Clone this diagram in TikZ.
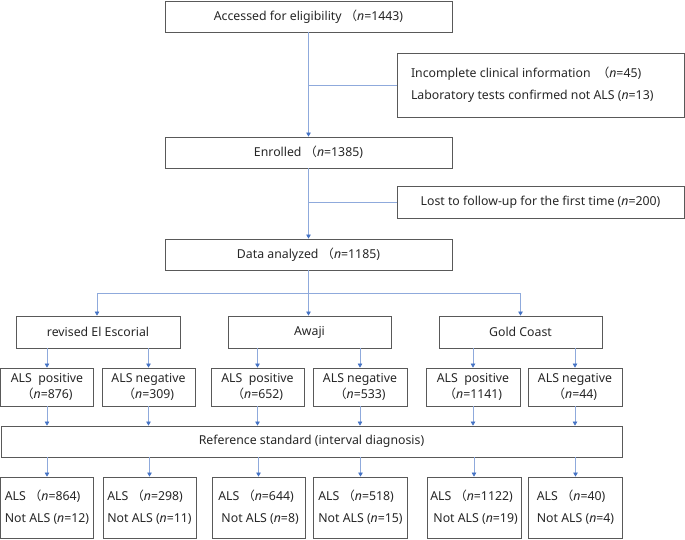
\documentclass[tikz,border=0pt]{standalone}
\usepackage{fontspec}
\setmainfont{Noto Sans}
\newfontfamily\cjk{Noto Sans CJK SC}
\usepackage{xcolor}
\usetikzlibrary{arrows.meta}
\definecolor{linkblue}{HTML}{8FAADC}
\definecolor{tipblue}{HTML}{4472C4}
\definecolor{boxgray}{HTML}{595959}
\newcommand{\lp}{{\cjk （}}
\newcommand{\nn}{\textit{n}}

\begin{document}
\begin{tikzpicture}[x=1pt, y=-1pt,
  every node/.style={font=\fontsize{12.3}{14}\selectfont, text=black!85},
  box/.style={draw=boxgray, line width=0.8pt, inner sep=0pt},
  wide/.style={box, minimum width=287pt, minimum height=31pt},
  crit/.style={box, minimum width=163pt, minimum height=32pt},
  pair/.style={box, minimum width=93pt, minimum height=38pt, align=center,
    font=\fontsize{12.3}{16}\selectfont},
  result/.style={box, minimum width=93pt, minimum height=61pt, align=left,
    font=\fontsize{12.3}{22}\selectfont},
  link/.style={draw=linkblue, line width=0.6pt},
  arr/.style={link, -{Triangle[length=4pt, width=4.5pt, color=tipblue]}}]
  \useasboundingbox (0,0) rectangle (685,540);

  % main column
  \node[wide] (access) at (308.5,16.5) {Accessed for eligibility \lp\nn=1443)};
  \node[wide] (enrolled) at (308.5,152.5) {Enrolled \lp\nn=1385)};
  \node[wide] (analyzed) at (308.5,254.5) {Data analyzed \lp\nn=1185)};
  \node[box, minimum width=287pt, minimum height=64pt, align=left,
    font=\fontsize{12.3}{22}\selectfont] (excl1) at (540.5,85)
    {\makebox[259pt][l]{Incomplete clinical information \ \lp\nn=45)}\\
     \makebox[259pt][l]{Laboratory tests confirmed not ALS (\nn=13)}};
  \node[box, minimum width=287pt, minimum height=32pt] (excl2) at (540.5,202)
    {Lost to follow-up for the first time (\nn=200)};

  \draw[arr] (access) -- (enrolled);
  \draw[link] (excl1.west) -- (excl1.west -| access.south);
  \draw[arr] (enrolled) -- (analyzed);
  \draw[link] (excl2.west) -- (excl2.west -| enrolled.south);

  % criteria
  \node[crit, minimum width=164pt] (escorial) at (98,332) {revised El Escorial};
  \node[crit] (awaji) at (309.5,332) {Awaji};
  \node[crit] (gold) at (520.5,332) {Gold Coast};

  \coordinate (split) at (308.5,293);
  \draw[link] (analyzed) -- (split);
  \draw[arr] (split) -| (escorial.north -| 97,0);
  \draw[arr] (split) -- (split |- awaji.north);
  \draw[arr] (split) -| (gold.north);

  % positive / negative
  \node[pair] (pos1) at (47,387) {ALS \ positive\\\lp\nn=876)};
  \node[pair] (neg1) at (148.5,387) {ALS negative\\\lp\nn=309)};
  \node[pair] (pos2) at (257.5,387) {ALS \ positive\\\lp\nn=652)};
  \node[pair, minimum width=94pt] (neg2) at (360,387) {ALS negative\\\lp\nn=533)};
  \node[pair, minimum width=94pt] (pos3) at (473,387) {ALS \ positive\\\lp\nn=1141)};
  \node[pair, minimum width=94pt] (neg3) at (575,387) {ALS negative\\\lp\nn=44)};

  \node[box, minimum width=621pt, minimum height=31pt] (ref) at (311.5,441.5)
    {Reference standard (interval diagnosis)};

  % results
  \node[result] (res1) at (47,507.5) {ALS \lp\nn=864)\\Not ALS (\nn=12)};
  \node[result] (res2) at (149.5,507.5) {ALS \lp\nn=298)\\Not ALS (\nn=11)};
  \node[result] (res3) at (258.5,507.5) {ALS \lp\nn=644)\\\ Not ALS (\nn=8)};
  \node[result, minimum width=94pt] (res4) at (360.5,507.5) {ALS \lp\nn=518)\\Not ALS (\nn=15)};
  \node[result, minimum width=94pt] (res5) at (474,507.5) {ALS \lp\nn=1122)\\\ Not ALS (\nn=19)};
  \node[result, minimum width=94pt] (res6) at (575.5,507.5) {ALS \lp\nn=40)\\Not ALS (\nn=4)};

  \foreach \p/\c/\r in {pos1/escorial/res1, neg1/escorial/res2, pos2/awaji/res3,
                        neg2/awaji/res4, pos3/gold/res5, neg3/gold/res6} {
    \draw[arr] (\p.north |- \c.south) -- (\p.north);
    \draw[arr] (\p.south) -- (\p.south |- ref.north);
    \draw[arr] (\r.north |- ref.south) -- (\r.north);
  }
\end{tikzpicture}
\end{document}
